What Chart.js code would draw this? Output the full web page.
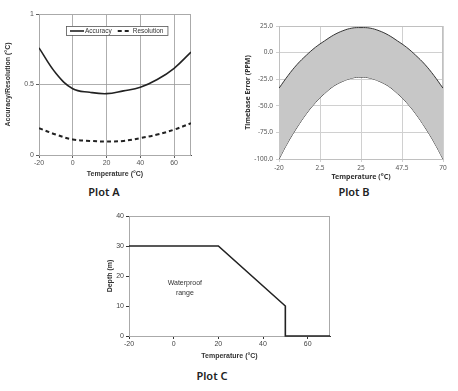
<!DOCTYPE html>
<html>
<head>
<meta charset="utf-8">
<script src="https://cdn.jsdelivr.net/npm/chart.js@4.4.1/dist/chart.umd.min.js"></script>
<style>
  body { margin: 0; background: #fff; width: 458px; height: 391px; position: relative; overflow: hidden; }
  .box { position: absolute; }
  .cap { position: absolute; font-family: 'Noto Sans', sans-serif; font-size: 11px; font-weight: 600; color: #222; transform: translateX(-50%); white-space: nowrap; }
</style>
</head>
<body>
<div class="box" style="left:0;top:0;width:200px;height:182px"><canvas id="plotA"></canvas></div>
<div class="box" style="left:230px;top:0;width:228px;height:182px"><canvas id="plotB"></canvas></div>
<div class="box" style="left:100px;top:200px;width:240px;height:162px"><canvas id="plotC"></canvas></div>
<div class="cap" style="left:104px;top:184px">Plot A</div>
<div class="cap" style="left:354px;top:184px">Plot B</div>
<div class="cap" style="left:212px;top:368px">Plot C</div>
<script>
// Plot A - accuracy / resolution vs temperature
var tempA = [-20, -10, 0, 10, 20, 30, 40, 50, 60, 70];
var accuracy = [0.76, 0.58, 0.47, 0.445, 0.435, 0.455, 0.48, 0.535, 0.615, 0.73];
var resolution = [0.19, 0.145, 0.11, 0.10, 0.095, 0.10, 0.12, 0.145, 0.18, 0.225];
var xTicksA = [-20, 0, 20, 40, 60];
var yTicksA = [0, 0.5, 1];

// Plot B - timebase error band
var tempB = [-20, -15, -10, -5, 0, 5, 10, 15, 20, 25, 30, 35, 40, 45, 50, 55, 60, 65, 70];
var errUpper = [-33.5, -21.5, -11, -2.5, 5, 11, 16.5, 20.5, 23, 23.5, 23, 20.5, 16.5, 11, 5, -2.5, -11, -21.5, -33.5];
var errLower = [-100, -84, -70, -57.5, -47, -38.5, -31.5, -27, -24, -23, -24, -27, -31.5, -38.5, -47, -57.5, -70, -84, -100];
var xTicksB = [-20, 2.5, 25, 47.5, 70];
var yTicksB = [-100, -75, -50, -25, 0, 25];

// Plot C - waterproof depth limit
var tempC = [-20, 20, 50, 50, 70];
var depth = [30, 30, 10, 0, 0];
var xTicksC = [-20, 0, 20, 40, 60];
var yTicksC = [0, 10, 20, 30, 40];

function pts(xs, ys) {
    return xs.map(function (x, i) { return { x: x, y: ys[i] }; });
}
function fixTicks(list) {
    return function (scale) { scale.ticks = list.map(function (v) { return { value: v }; }); };
}
function plain(v) { return String(v); }

var arial = "'Liberation Sans', Arial, sans-serif";

// grey frame round the plot area
var framePlugin = {
    id: 'frame',
    beforeDatasetsDraw: function (chart, args, opts) {
        var a = chart.chartArea, c = chart.ctx;
        c.save();
        c.strokeStyle = opts.color || '#aaa';
        c.lineWidth = 1;
        c.strokeRect(a.left + 0.5, a.top + 0.5, a.right - a.left - 1, a.bottom - a.top);
        c.restore();
    }
};

// boxed one-row legend inside the plot area (plot A)
var innerLegend = {
    id: 'innerLegend',
    afterDraw: function (chart) {
        var c = chart.ctx, a = chart.chartArea;
        var sets = chart.data.datasets;
        var lineLen = 14, gap = 1, sep = 6;
        c.save();
        c.font = '6.5px ' + arial;
        var widths = sets.map(function (d) { return lineLen + gap + c.measureText(d.label).width; });
        var total = widths.reduce(function (s, w) { return s + w; }, 0) + sep * (sets.length - 1);
        var boxW = total + 8, boxH = 9;
        var left = Math.round((a.left + a.right) / 2 - boxW / 2 + 2);
        var top = Math.round(a.top + 12);
        c.fillStyle = '#fff';
        c.fillRect(left, top, boxW, boxH);
        c.strokeStyle = '#555';
        c.lineWidth = 0.8;
        c.strokeRect(left + 0.5, top + 0.5, boxW, boxH);
        var x = left + 4, y = top + boxH / 2 + 0.5;
        sets.forEach(function (d, i) {
            c.beginPath();
            c.strokeStyle = d.borderColor;
            c.lineWidth = d.borderWidth;
            c.setLineDash(d.borderDash || []);
            c.moveTo(x, y);
            c.lineTo(x + lineLen, y);
            c.stroke();
            c.setLineDash([]);
            c.fillStyle = '#333';
            c.textBaseline = 'middle';
            c.fillText(d.label, x + lineLen + gap, y);
            x += widths[i] + sep;
        });
        c.restore();
    }
};

new Chart(document.getElementById('plotA'), {
    type: 'line',
    data: {
        datasets: [
            { label: 'Accuracy', data: pts(tempA, accuracy), borderColor: '#222', borderWidth: 1.6, pointRadius: 0, tension: 0.4, fill: false },
            { label: 'Resolution', data: pts(tempA, resolution), borderColor: '#222', borderWidth: 2, borderDash: [4, 3], pointRadius: 0, tension: 0.4, fill: false }
        ]
    },
    options: {
        responsive: true,
        maintainAspectRatio: false,
        animation: false,
        layout: { padding: { left: 2, top: 14, right: 9, bottom: 0 } },
        scales: {
            x: {
                type: 'linear', min: -20, max: 70,
                afterBuildTicks: fixTicks(xTicksA),
                afterFit: function (s) { s.height = 27; },
                grid: { color: '#999', lineWidth: 0.8, tickLength: 3, tickColor: '#333' },
                border: { color: '#333', width: 1 },
                ticks: { color: '#555', padding: 1, font: { family: arial, size: 7 }, callback: plain },
                title: { display: true, text: 'Temperature (°C)', color: '#333', padding: { top: 2, bottom: 4 }, font: { family: arial, size: 7, weight: 'bold' } }
            },
            y: {
                min: 0, max: 1,
                afterBuildTicks: fixTicks(yTicksA),
                afterFit: function (s) { s.width = 37; },
                grid: { color: '#999', lineWidth: 0.8, tickLength: 3, tickColor: '#333' },
                border: { color: '#333', width: 1 },
                ticks: { color: '#555', padding: 2, font: { family: arial, size: 7 }, callback: plain },
                title: { display: true, text: 'Accuracy/Resolution (°C)', color: '#333', padding: { top: 2, bottom: 4 }, font: { family: arial, size: 7, weight: 'bold' } }
            }
        },
        plugins: {
            frame: { color: '#aaa' },
            tooltip: { enabled: false },
            legend: { display: false }
        }
    },
    plugins: [framePlugin, innerLegend]
});

new Chart(document.getElementById('plotB'), {
    type: 'line',
    data: {
        datasets: [
            { label: 'Upper', data: pts(tempB, errUpper), borderColor: '#333', borderWidth: 1, pointRadius: 0, tension: 0.4, fill: '+1', backgroundColor: '#c7c7c7' },
            { label: 'Lower', data: pts(tempB, errLower), borderColor: '#333', borderWidth: 1, pointRadius: 0, tension: 0.4, fill: false }
        ]
    },
    options: {
        responsive: true,
        maintainAspectRatio: false,
        animation: false,
        layout: { padding: { left: 12, top: 26, right: 15, bottom: 0 } },
        scales: {
            x: {
                type: 'linear', min: -20, max: 70,
                afterBuildTicks: fixTicks(xTicksB),
                afterFit: function (s) { s.height = 23; },
                grid: { color: '#d0d0d0', lineWidth: 1, tickLength: 3 },
                border: { color: '#c0c0c0', width: 1 },
                ticks: { color: '#555', padding: 2, font: { family: "'Noto Sans', sans-serif", size: 6.5 }, callback: plain },
                title: { display: true, text: 'Temperature (°C)', color: '#333', padding: { top: 1, bottom: 1 }, font: { family: "'Noto Sans', sans-serif", size: 7, weight: 'bold' } }
            },
            y: {
                min: -100, max: 25,
                afterBuildTicks: fixTicks(yTicksB),
                afterFit: function (s) { s.width = 37; },
                grid: { color: '#d0d0d0', lineWidth: 1, tickLength: 3 },
                border: { color: '#c0c0c0', width: 1 },
                ticks: { color: '#555', padding: 3, font: { family: "'Noto Sans', sans-serif", size: 6.5 }, callback: function (v) { return Number(v).toFixed(1); } },
                title: { display: true, text: 'Timebase Error (PPM)', color: '#333', padding: { top: 2, bottom: 2 }, font: { family: "'Noto Sans', sans-serif", size: 7, weight: 'bold' } }
            }
        },
        plugins: {
            frame: { color: '#c0c0c0' },
            tooltip: { enabled: false },
            legend: { display: false }
        }
    },
    plugins: [framePlugin]
});

// label inside plot C, placed through the chart's own scales
var rangeLabel = {
    id: 'rangeLabel',
    afterDatasetsDraw: function (chart) {
        var c = chart.ctx, xs = chart.scales.x, ys = chart.scales.y;
        c.save();
        c.fillStyle = '#333';
        c.font = '7px ' + arial;
        c.textAlign = 'center';
        c.textBaseline = 'middle';
        c.fillText('Waterproof', xs.getPixelForValue(5), ys.getPixelForValue(17.6));
        c.fillText('range', xs.getPixelForValue(5), ys.getPixelForValue(14.4));
        c.restore();
    }
};

new Chart(document.getElementById('plotC'), {
    type: 'line',
    data: {
        datasets: [
            { label: 'Depth', data: pts(tempC, depth), borderColor: '#222', borderWidth: 1.6, pointRadius: 0, tension: 0, fill: false, clip: 4 }
        ]
    },
    options: {
        responsive: true,
        maintainAspectRatio: false,
        animation: false,
        layout: { padding: { left: 4, top: 16, right: 10, bottom: 0 } },
        scales: {
            x: {
                type: 'linear', min: -20, max: 70,
                afterBuildTicks: fixTicks(xTicksC),
                afterFit: function (s) { s.height = 26; },
                grid: { drawOnChartArea: false, tickLength: 3, tickColor: '#333' },
                border: { color: '#333', width: 1 },
                ticks: { color: '#444', padding: 1, font: { family: arial, size: 7 }, callback: plain },
                title: { display: true, text: 'Temperature (°C)', color: '#333', padding: { top: 2, bottom: 2 }, font: { family: arial, size: 7, weight: 'bold' } }
            },
            y: {
                min: 0, max: 40,
                afterBuildTicks: fixTicks(yTicksC),
                afterFit: function (s) { s.width = 25; },
                grid: { drawOnChartArea: false, tickLength: 3, tickColor: '#333' },
                border: { color: '#333', width: 1 },
                ticks: { color: '#444', padding: 2, font: { family: arial, size: 7 }, callback: plain },
                title: { display: true, text: 'Depth (m)', color: '#333', padding: { top: 2, bottom: 2 }, font: { family: arial, size: 7, weight: 'bold' } }
            }
        },
        plugins: {
            frame: { color: '#aaa' },
            tooltip: { enabled: false },
            legend: { display: false }
        }
    },
    plugins: [framePlugin, rangeLabel]
});
</script>
</body>
</html>
